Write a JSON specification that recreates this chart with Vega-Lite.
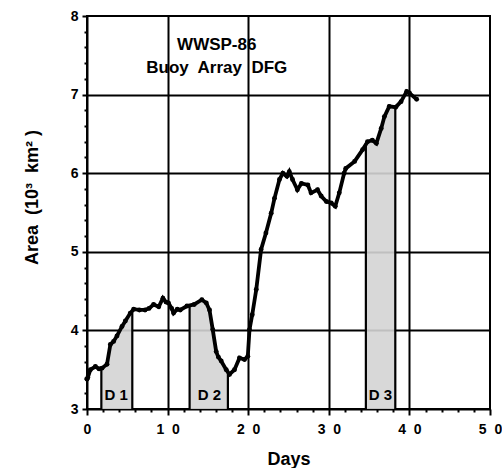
{
  "$schema": "https://vega.github.io/schema/vega-lite/v6.json",
  "width": 403,
  "height": 393,
  "autosize": {"type": "none"},
  "padding": {"left": 87, "top": 16, "right": 12, "bottom": 59},
  "background": "white",
  "config": {
    "view": {"stroke": "black", "strokeWidth": 2},
    "font": "Liberation Sans"
  },
  "datasets": {
    "curve": [
      {"day": 0.0, "area": 3.38}, {"day": 0.1, "area": 3.40}, {"day": 0.42, "area": 3.50}, {"day": 1.04, "area": 3.54},
      {"day": 1.5, "area": 3.51}, {"day": 1.86, "area": 3.52}, {"day": 2.48, "area": 3.57}, {"day": 2.9, "area": 3.82},
      {"day": 3.3, "area": 3.86}, {"day": 3.72, "area": 3.93}, {"day": 4.34, "area": 4.05}, {"day": 4.76, "area": 4.12},
      {"day": 5.37, "area": 4.22}, {"day": 5.79, "area": 4.27}, {"day": 6.5, "area": 4.26}, {"day": 7.2, "area": 4.26},
      {"day": 7.7, "area": 4.28}, {"day": 8.26, "area": 4.33}, {"day": 8.9, "area": 4.30}, {"day": 9.42, "area": 4.41},
      {"day": 9.8, "area": 4.36}, {"day": 10.1, "area": 4.35}, {"day": 10.5, "area": 4.28}, {"day": 10.74, "area": 4.22},
      {"day": 11.2, "area": 4.27}, {"day": 11.57, "area": 4.26}, {"day": 12.4, "area": 4.31}, {"day": 13.3, "area": 4.33},
      {"day": 14.25, "area": 4.39}, {"day": 14.8, "area": 4.35}, {"day": 15.2, "area": 4.26}, {"day": 15.6, "area": 4.01},
      {"day": 16.03, "area": 3.73}, {"day": 16.3, "area": 3.66}, {"day": 16.65, "area": 3.61}, {"day": 17.27, "area": 3.50},
      {"day": 17.68, "area": 3.44}, {"day": 18.3, "area": 3.50}, {"day": 18.92, "area": 3.65}, {"day": 19.54, "area": 3.63},
      {"day": 19.95, "area": 3.67}, {"day": 20.16, "area": 4.01}, {"day": 20.5, "area": 4.2}, {"day": 21.0, "area": 4.52},
      {"day": 21.6, "area": 5.03}, {"day": 22.2, "area": 5.24}, {"day": 22.85, "area": 5.49}, {"day": 23.26, "area": 5.68},
      {"day": 23.88, "area": 5.92}, {"day": 24.3, "area": 6.00}, {"day": 24.8, "area": 5.96}, {"day": 25.1, "area": 6.02},
      {"day": 25.5, "area": 5.92}, {"day": 26.1, "area": 5.79}, {"day": 26.6, "area": 5.87}, {"day": 27.4, "area": 5.85},
      {"day": 27.8, "area": 5.75}, {"day": 28.6, "area": 5.79}, {"day": 29.05, "area": 5.71}, {"day": 29.7, "area": 5.64},
      {"day": 30.3, "area": 5.62}, {"day": 30.8, "area": 5.58}, {"day": 31.3, "area": 5.75}, {"day": 31.9, "area": 6.00},
      {"day": 32.1, "area": 6.06}, {"day": 33.2, "area": 6.15}, {"day": 34.2, "area": 6.30}, {"day": 34.8, "area": 6.40},
      {"day": 35.4, "area": 6.42}, {"day": 35.9, "area": 6.38}, {"day": 36.5, "area": 6.57}, {"day": 36.9, "area": 6.72},
      {"day": 37.5, "area": 6.85}, {"day": 38.3, "area": 6.84}, {"day": 38.96, "area": 6.91}, {"day": 39.66, "area": 7.04},
      {"day": 40.0, "area": 7.02}, {"day": 40.9, "area": 6.94}
    ],
    "shade": [
      {"region": "D1", "day": 1.78, "area": 3.52}, {"region": "D1", "day": 1.86, "area": 3.52}, {"region": "D1", "day": 2.48, "area": 3.57},
      {"region": "D1", "day": 2.9, "area": 3.82}, {"region": "D1", "day": 3.3, "area": 3.86}, {"region": "D1", "day": 3.72, "area": 3.93},
      {"region": "D1", "day": 4.34, "area": 4.05}, {"region": "D1", "day": 4.76, "area": 4.12}, {"region": "D1", "day": 5.37, "area": 4.22},
      {"region": "D1", "day": 5.62, "area": 4.25},
      {"region": "D2", "day": 12.73, "area": 4.32}, {"region": "D2", "day": 13.3, "area": 4.33}, {"region": "D2", "day": 14.25, "area": 4.39},
      {"region": "D2", "day": 14.8, "area": 4.35}, {"region": "D2", "day": 15.2, "area": 4.26}, {"region": "D2", "day": 15.6, "area": 4.01},
      {"region": "D2", "day": 16.03, "area": 3.73}, {"region": "D2", "day": 16.3, "area": 3.66}, {"region": "D2", "day": 16.65, "area": 3.61},
      {"region": "D2", "day": 17.27, "area": 3.50}, {"region": "D2", "day": 17.48, "area": 3.47},
      {"region": "D3", "day": 34.6, "area": 6.38}, {"region": "D3", "day": 34.8, "area": 6.40}, {"region": "D3", "day": 35.4, "area": 6.42},
      {"region": "D3", "day": 35.9, "area": 6.38}, {"region": "D3", "day": 36.5, "area": 6.57}, {"region": "D3", "day": 36.9, "area": 6.72},
      {"region": "D3", "day": 37.5, "area": 6.85}, {"region": "D3", "day": 38.25, "area": 6.85}
    ],
    "bounds": [
      {"day": 1.78, "top": 3.52}, {"day": 5.62, "top": 4.25},
      {"day": 12.73, "top": 4.32}, {"day": 17.48, "top": 3.47},
      {"day": 34.6, "top": 6.38}, {"day": 38.25, "top": 6.85}
    ],
    "dlabels": [
      {"day": 3.62, "y": 3.12, "label": "D 1"},
      {"day": 15.2, "y": 3.12, "label": "D 2"},
      {"day": 36.4, "y": 3.12, "label": "D 3"}
    ],
    "titles": [
      {"day": 16.1, "y": 7.57, "label": "WWSP-86"},
      {"day": 16.1, "y": 7.27, "label": "Buoy\u00a0 Array\u00a0 DFG"}
    ]
  },
  "layer": [
    {
      "data": {"name": "shade"},
      "mark": {"type": "area", "fill": "#d4d4d4", "opacity": 0.9, "interpolate": "linear"},
      "encoding": {
        "x": {"field": "day", "type": "quantitative", "scale": {"domain": [0, 50], "nice": false, "zero": false}},
        "y": {"field": "area", "type": "quantitative", "scale": {"domain": [3, 8], "nice": false, "zero": false}},
        "y2": {"datum": 3},
        "detail": {"field": "region"}
      }
    },
    {
      "data": {"name": "curve"},
      "mark": {"type": "line", "color": "black", "strokeWidth": 3.8, "point": {"filled": true, "color": "black", "size": 24}},
      "encoding": {
        "x": {
          "field": "day", "type": "quantitative",
          "title": "Days",
          "axis": {
            "values": [0, 2, 4, 6, 8, 10, 12, 14, 16, 18, 20, 22, 24, 26, 28, 30, 32, 34, 36, 38, 40, 42, 44, 46, 48, 50],
            "tickCount": 60,
            "grid": true,
            "gridColor": "black",
            "gridWidth": 2,
            "gridOpacity": {"condition": {"test": "datum.value % 10 === 0 && datum.value > 0 && datum.value < 50", "value": 1}, "value": 0},
            "domainColor": "black",
            "domainWidth": 2,
            "tickColor": "black",
            "tickWidth": 2,
            "tickSize": {"condition": {"test": "datum.value % 10 === 0", "value": 6}, "value": 3},
            "labelExpr": "datum.value % 10 === 0 ? (datum.value === 0 ? '0' : format(datum.value / 10, 'd') + '\u00a0 0') : ''",
            "labelOverlap": false,
            "labelFontSize": 14,
            "labelFontWeight": "bold",
            "labelColor": "black",
            "labelPadding": 7,
            "labelFlush": false,
            "titleFontSize": 18,
            "titleFontWeight": "bold",
            "titleColor": "black",
            "titleBaseline": "alphabetic",
            "titleY": 55
          }
        },
        "y": {
          "field": "area", "type": "quantitative",
          "title": "Area\u00a0 (10³\u00a0 km²\u00a0)",
          "axis": {
            "values": [3, 3.2, 3.4, 3.6, 3.8, 4, 4.2, 4.4, 4.6, 4.8, 5, 5.2, 5.4, 5.6, 5.8, 6, 6.2, 6.4, 6.6, 6.8, 7, 7.2, 7.4, 7.6, 7.8, 8],
            "tickCount": 60,
            "grid": true,
            "gridColor": "black",
            "gridWidth": 2,
            "gridOpacity": {"condition": {"test": "abs(datum.value - round(datum.value)) < 0.001 && datum.value > 3.5 && datum.value < 7.5", "value": 1}, "value": 0},
            "domainColor": "black",
            "domainWidth": 2,
            "tickColor": "black",
            "tickWidth": 2,
            "tickSize": {"condition": {"test": "abs(datum.value - round(datum.value)) < 0.001", "value": 5}, "value": 3},
            "labelExpr": "abs(datum.value - round(datum.value)) < 0.001 ? format(datum.value, 'd') : ''",
            "labelOverlap": false,
            "labelFontSize": 14,
            "labelFontWeight": "bold",
            "labelColor": "black",
            "labelPadding": 4,
            "labelFlush": false,
            "titleFontSize": 18,
            "titleFontWeight": "bold",
            "titleColor": "black",
            "titleAngle": -90,
            "titleAlign": "center",
            "titleBaseline": "middle",
            "titleX": -55,
            "titleY": 181
          }
        }
      }
    },
    {
      "data": {"name": "bounds"},
      "mark": {"type": "rule", "color": "black", "strokeWidth": 2.2},
      "encoding": {
        "x": {"field": "day", "type": "quantitative"},
        "y": {"field": "top", "type": "quantitative"},
        "y2": {"datum": 3}
      }
    },
    {
      "data": {"name": "dlabels"},
      "mark": {"type": "text", "font": "Liberation Sans", "fontWeight": "bold", "fontSize": 15, "color": "black", "align": "center", "baseline": "alphabetic"},
      "encoding": {
        "x": {"field": "day", "type": "quantitative"},
        "y": {"field": "y", "type": "quantitative"},
        "text": {"field": "label"}
      }
    },
    {
      "data": {"name": "titles"},
      "mark": {"type": "text", "font": "Liberation Sans", "fontWeight": "bold", "fontSize": 17, "color": "black", "align": "center", "baseline": "alphabetic"},
      "encoding": {
        "x": {"field": "day", "type": "quantitative"},
        "y": {"field": "y", "type": "quantitative"},
        "text": {"field": "label"}
      }
    }
  ]
}
